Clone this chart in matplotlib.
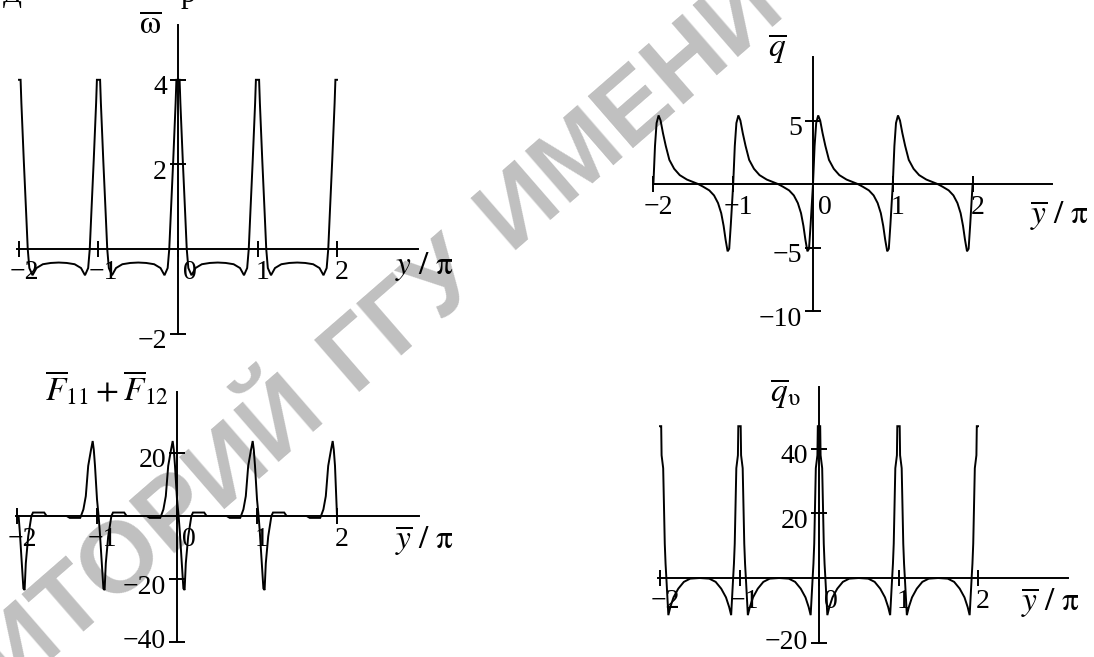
import math
import matplotlib
matplotlib.use("Agg")
import matplotlib.pyplot as plt
from matplotlib.transforms import ScaledTranslation

plt.rcParams['font.family'] = ['Liberation Serif', 'DejaVu Serif']
plt.rcParams['mathtext.fontset'] = 'stix'

W, H, DPI = 1094, 657, 100

# ---------------- data ----------------
x_ticks = [-2, -1, 0, 1, 2]
x_tick_labels = ['\u22122', '\u22121', '0', '1', '2']

# panel 1: omega-bar
omega_x = [-2.00, -1.98, -1.97, -1.94, -1.91, -1.89, -1.87, -1.83, -1.78, -1.70, -1.60, -1.50,
           -1.40, -1.30, -1.22, -1.17, -1.13, -1.11, -1.09, -1.06, -1.03, -1.02,
           -1.00, -0.98, -0.97, -0.94, -0.91, -0.89, -0.87, -0.83, -0.78, -0.70, -0.60, -0.50,
           -0.40, -0.30, -0.22, -0.17, -0.13, -0.11, -0.09, -0.06, -0.03, -0.02,
           0.00, 0.02, 0.03, 0.06, 0.09, 0.11, 0.13, 0.17, 0.22, 0.30, 0.40, 0.50,
           0.60, 0.70, 0.78, 0.83, 0.87, 0.89, 0.91, 0.94, 0.97, 0.98,
           1.00, 1.02, 1.03, 1.06, 1.09, 1.11, 1.13, 1.17, 1.22, 1.30, 1.40, 1.50,
           1.60, 1.70, 1.78, 1.83, 1.87, 1.89, 1.91, 1.94, 1.97, 1.98,
           2.00]
omega_y = [4.0, 4.0, 3.45, 2.1, 0.85, 0.0, -0.45, -0.62, -0.45, -0.36, -0.33, -0.32,
           -0.33, -0.36, -0.45, -0.62, -0.45, 0.0, 0.85, 2.1, 3.45, 4.0,
           4.0, 4.0, 3.45, 2.1, 0.85, 0.0, -0.45, -0.62, -0.45, -0.36, -0.33, -0.32,
           -0.33, -0.36, -0.45, -0.62, -0.45, 0.0, 0.85, 2.1, 3.45, 4.0,
           4.0, 4.0, 3.45, 2.1, 0.85, 0.0, -0.45, -0.62, -0.45, -0.36, -0.33, -0.32,
           -0.33, -0.36, -0.45, -0.62, -0.45, 0.0, 0.85, 2.1, 3.45, 4.0,
           4.0, 4.0, 3.45, 2.1, 0.85, 0.0, -0.45, -0.62, -0.45, -0.36, -0.33, -0.32,
           -0.33, -0.36, -0.45, -0.62, -0.45, 0.0, 0.85, 2.1, 3.45, 4.0,
           4.0]
omega_yticks = [4, 2, -2]
omega_ytick_labels = ['4', '2', '\u22122']

# panel 2: q-bar
q_x = [-2.00, -1.98, -1.96, -1.935, -1.91, -1.88, -1.845, -1.80, -1.74, -1.67, -1.58, -1.50,
       -1.44, -1.38, -1.30, -1.24, -1.19, -1.15, -1.12, -1.095, -1.07, -1.05, -1.03,
       -1.00, -0.98, -0.96, -0.935, -0.91, -0.88, -0.845, -0.80, -0.74, -0.67, -0.58, -0.50,
       -0.44, -0.38, -0.30, -0.24, -0.19, -0.15, -0.12, -0.095, -0.07, -0.05, -0.03,
       0.00, 0.02, 0.04, 0.065, 0.09, 0.12, 0.155, 0.20, 0.26, 0.33, 0.42, 0.50,
       0.56, 0.62, 0.70, 0.76, 0.81, 0.85, 0.88, 0.905, 0.93, 0.95, 0.97,
       1.00, 1.02, 1.04, 1.065, 1.09, 1.12, 1.155, 1.20, 1.26, 1.33, 1.42, 1.50,
       1.56, 1.62, 1.70, 1.76, 1.81, 1.85, 1.88, 1.905, 1.93, 1.95, 1.97,
       2.00]
q_y = [0.0, 3.0, 4.8, 5.4, 5.0, 4.0, 3.0, 1.9, 1.2, 0.7, 0.35, 0.15,
       0.0, -0.2, -0.5, -0.9, -1.5, -2.3, -3.3, -4.4, -5.3, -5.1, -3.2,
       0.0, 3.0, 4.8, 5.4, 5.0, 4.0, 3.0, 1.9, 1.2, 0.7, 0.35, 0.15,
       0.0, -0.2, -0.5, -0.9, -1.5, -2.3, -3.3, -4.4, -5.3, -5.1, -3.2,
       0.0, 3.0, 4.8, 5.4, 5.0, 4.0, 3.0, 1.9, 1.2, 0.7, 0.35, 0.15,
       0.0, -0.2, -0.5, -0.9, -1.5, -2.3, -3.3, -4.4, -5.3, -5.1, -3.2,
       0.0, 3.0, 4.8, 5.4, 5.0, 4.0, 3.0, 1.9, 1.2, 0.7, 0.35, 0.15,
       0.0, -0.2, -0.5, -0.9, -1.5, -2.3, -3.3, -4.4, -5.3, -5.1, -3.2,
       0.0]
q_yticks = [5, -5, -10]
q_ytick_labels = ['5', '\u22125', '\u221210']

# panel 3: F11 + F12
f_x = [-2.00,
       -1.98, -1.965, -1.95, -1.935, -1.92, -1.905, -1.89, -1.86, -1.82, -1.80, -1.66, -1.63,
       -1.38, -1.34, -1.21, -1.20, -1.17, -1.14, -1.11, -1.075, -1.054, -1.04, -1.025, -1.00,
       -0.98, -0.965, -0.95, -0.935, -0.92, -0.905, -0.89, -0.86, -0.82, -0.80, -0.66, -0.63,
       -0.38, -0.34, -0.21, -0.20, -0.17, -0.14, -0.11, -0.075, -0.054, -0.04, -0.025, 0.00,
       0.02, 0.035, 0.05, 0.065, 0.08, 0.095, 0.11, 0.14, 0.18, 0.20, 0.34, 0.37,
       0.62, 0.66, 0.79, 0.80, 0.83, 0.86, 0.89, 0.925, 0.946, 0.96, 0.975, 1.00,
       1.02, 1.035, 1.05, 1.065, 1.08, 1.095, 1.11, 1.14, 1.18, 1.20, 1.34, 1.37,
       1.62, 1.66, 1.79, 1.80, 1.83, 1.86, 1.89, 1.925, 1.946, 1.96, 1.975, 2.00]
f_y = [0.0,
       0.0, -5, -11, -17, -23, -23.5, -15, -6.5, 0.0, 1.1, 1.1, 0.0,
       0.0, -0.6, -0.6, 0.0, 2.1, 6.3, 15.9, 21, 23.8, 21, 15.9, 5.3,
       0.0, -5, -11, -17, -23, -23.5, -15, -6.5, 0.0, 1.1, 1.1, 0.0,
       0.0, -0.6, -0.6, 0.0, 2.1, 6.3, 15.9, 21, 23.8, 21, 15.9, 5.3,
       0.0, -5, -11, -17, -23, -23.5, -15, -6.5, 0.0, 1.1, 1.1, 0.0,
       0.0, -0.6, -0.6, 0.0, 2.1, 6.3, 15.9, 21, 23.8, 21, 15.9, 5.3,
       0.0, -5, -11, -17, -23, -23.5, -15, -6.5, 0.0, 1.1, 1.1, 0.0,
       0.0, -0.6, -0.6, 0.0, 2.1, 6.3, 15.9, 21, 23.8, 21, 15.9, 0.0]
f_yticks = [20, -20, -40]
f_ytick_labels = ['20', '\u221220', '\u221240']

# panel 4: q-bar_upsilon
qv_x = [-2.00, -1.985, -1.98, -1.96, -1.94, -1.93, -1.92, -1.895, -1.87, -1.83, -1.77, -1.70, -1.62,
        -1.50, -1.38, -1.30, -1.23, -1.17, -1.13, -1.105, -1.08, -1.07, -1.06, -1.04, -1.02, -1.015,
        -1.00, -0.985, -0.98, -0.96, -0.94, -0.93, -0.92, -0.895, -0.87, -0.83, -0.77, -0.70, -0.62,
        -0.50, -0.38, -0.30, -0.23, -0.17, -0.13, -0.105, -0.08, -0.07, -0.06, -0.04, -0.02, -0.015,
        0.00, 0.015, 0.02, 0.04, 0.06, 0.07, 0.08, 0.105, 0.13, 0.17, 0.23, 0.30, 0.38,
        0.50, 0.62, 0.70, 0.77, 0.83, 0.87, 0.895, 0.92, 0.93, 0.94, 0.96, 0.98, 0.985,
        1.00, 1.015, 1.02, 1.04, 1.06, 1.07, 1.08, 1.105, 1.13, 1.17, 1.23, 1.30, 1.38,
        1.50, 1.62, 1.70, 1.77, 1.83, 1.87, 1.895, 1.92, 1.93, 1.94, 1.96, 1.98, 1.985,
        2.00]
qv_y = [47, 47, 38, 34, 10.6, 4.4, 0.0, -11.5, -9.0, -6.0, -3.3, -1.2, -0.2,
        0.0, -0.2, -1.2, -3.3, -6.0, -9.0, -11.5, 0.0, 4.4, 10.6, 34, 38, 47,
        47, 47, 38, 34, 10.6, 4.4, 0.0, -11.5, -9.0, -6.0, -3.3, -1.2, -0.2,
        0.0, -0.2, -1.2, -3.3, -6.0, -9.0, -11.5, 0.0, 4.4, 10.6, 34, 38, 47,
        47, 47, 38, 34, 10.6, 4.4, 0.0, -11.5, -9.0, -6.0, -3.3, -1.2, -0.2,
        0.0, -0.2, -1.2, -3.3, -6.0, -9.0, -11.5, 0.0, 4.4, 10.6, 34, 38, 47,
        47, 47, 38, 34, 10.6, 4.4, 0.0, -11.5, -9.0, -6.0, -3.3, -1.2, -0.2,
        0.0, -0.2, -1.2, -3.3, -6.0, -9.0, -11.5, 0.0, 4.4, 10.6, 34, 38, 47,
        47]
qv_yticks = [40, 20, -20]
qv_ytick_labels = ['40', '20', '\u221220']

# ---------------- figure ----------------
LW = 1.4
TICK_FS = 20
LABEL_FS = 24

fig = plt.figure(figsize=(W / DPI, H / DPI), dpi=DPI)
fig.patch.set_facecolor('white')


def px(dx, dy):
    return ScaledTranslation(dx / DPI, dy / DPI, fig.dpi_scale_trans)


def make_axes(x0, sx, y0, sy, xlim, ylim):
    left = x0 + xlim[0] * sx
    right = x0 + xlim[1] * sx
    top = y0 - ylim[1] * sy
    bottom = y0 - ylim[0] * sy
    ax = fig.add_axes([left / W, 1 - bottom / H, (right - left) / W, (bottom - top) / H])
    ax.set_xlim(*xlim)
    ax.set_ylim(*ylim)
    ax.patch.set_visible(False)
    for s in ['top', 'right']:
        ax.spines[s].set_visible(False)
    ax.spines['left'].set_position(('data', 0))
    ax.spines['bottom'].set_position(('data', 0))
    for s in ['left', 'bottom']:
        ax.spines[s].set_linewidth(LW)
    ax.tick_params(direction='inout', length=11, width=LW, labelsize=TICK_FS, pad=2.5)
    return ax


def finish(ax, xs, ys, yticks, ylabels, bottom_up=False):
    ax.plot(xs, ys, color='black', lw=LW, clip_on=False, solid_joinstyle='miter')
    ax.set_xticks(x_ticks, x_tick_labels)
    ax.set_yticks(yticks, ylabels)
    for lab in ax.get_xticklabels():
        dx = 12 if lab.get_text() == '0' else 5
        lab.set_transform(lab.get_transform() + px(dx, 0))
    labs = ax.get_yticklabels()
    for i, lab in enumerate(labs):
        dy = -5
        if bottom_up and i == len(labs) - 1:
            dy = 3
        lab.set_transform(lab.get_transform() + px(0, dy))


ax1 = make_axes(178, 79.5, 249, 42.3, (-2.03, 3.02), (-2, 5.3))
finish(ax1, omega_x, omega_y, omega_yticks, omega_ytick_labels)

ax2 = make_axes(813, 79.8, 184, 12.7, (-2.01, 3.0), (-10, 10))
finish(ax2, q_x, q_y, q_yticks, q_ytick_labels)

ax3 = make_axes(177, 80.0, 516, 3.15, (-2.01, 3.02), (-40, 39.4))
finish(ax3, f_x, f_y, f_yticks, f_ytick_labels, bottom_up=True)

ax4 = make_axes(819, 79.5, 578, 3.23, (-2.03, 3.13), (-20, 59))
finish(ax4, qv_x, qv_y, qv_yticks, qv_ytick_labels, bottom_up=True)


def ftext(x, y, s, **kw):
    return fig.text(x / W, 1 - y / H, s, **kw)


# axis names
ftext(150, 25, r'$\overline{\mathrm{\omega}}$', fontsize=LABEL_FS, ha='center', va='center')
ftext(425, 267, r'$y\ /\ \mathrm{\pi}$', fontsize=LABEL_FS, ha='center', va='center')
ftext(777, 48, r'$\overline{q}$', fontsize=LABEL_FS, ha='center', va='center')
ftext(1060, 215, r'$\overline{y}\ /\ \mathrm{\pi}$', fontsize=LABEL_FS, ha='center', va='center')
ftext(107, 388, r'$\overline{F}_{11}+\overline{F}_{12}$', fontsize=LABEL_FS, ha='center', va='center')
ftext(425, 540, r'$\overline{y}\ /\ \mathrm{\pi}$', fontsize=LABEL_FS, ha='center', va='center')
ftext(785, 393, r'$\overline{q}_{\mathrm{\upsilon}}$', fontsize=LABEL_FS, ha='center', va='center')
ftext(1051, 602, r'$\overline{y}\ /\ \mathrm{\pi}$', fontsize=LABEL_FS, ha='center', va='center')

# cut-off line of text above the figure (only its lower edge is visible)
ftext(12, 2, 'Д', fontsize=20, ha='center', va='baseline')
ftext(188, 2, 'р', fontsize=22, ha='center', va='baseline')

# watermark
ang = 41.0
cx, cy = 402, 315
ux, uy = math.cos(math.radians(ang)), math.sin(math.radians(ang))
wm = dict(fontsize=72, color='black', alpha=0.25, family='Liberation Sans', weight='bold',
          rotation=ang, rotation_mode='anchor', va='center', zorder=10)
d = 122
ftext(cx, cy, 'ГГУ', ha='center', **wm)
ftext(cx - d * ux, cy + d * uy, 'РЕПОЗИТОРИЙ', ha='right', **wm)
ftext(cx + d * ux, cy - d * uy, 'ИМЕНИ Ф. СКОРИНЫ', ha='left', **wm)

fig.savefig('out.png', dpi=DPI)
